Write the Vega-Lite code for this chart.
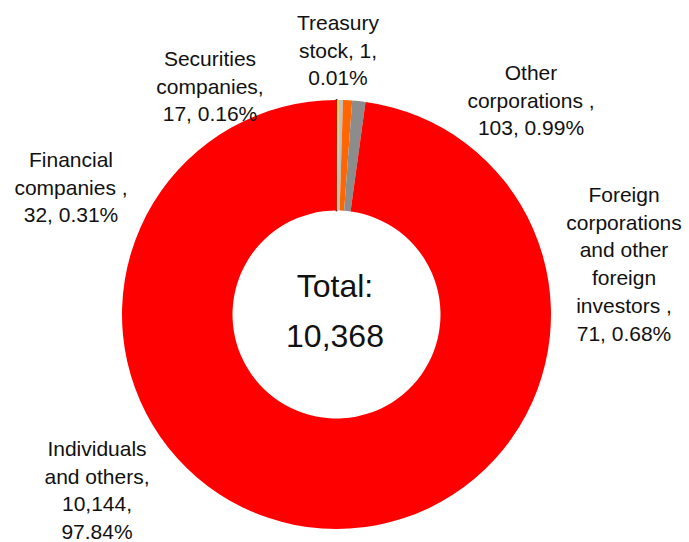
{
  "$schema": "https://vega.github.io/schema/vega-lite/v6.json",
  "width": 673,
  "height": 429,
  "autosize": {"type": "none"},
  "padding": {"top": 100, "left": 0, "right": 16, "bottom": 13},
  "background": "white",
  "config": {
    "view": {"stroke": null},
    "text": {"font": "Liberation Sans", "fontSize": 21, "color": "#111111", "lineBreak": "\n", "lineHeight": 27.7, "align": "center", "baseline": "alphabetic"}
  },
  "data": {
    "values": [
      {"holder": "Treasury stock", "shares": 1},
      {"holder": "Securities companies", "shares": 17},
      {"holder": "Financial companies", "shares": 32},
      {"holder": "Foreign corporations and other foreign investors", "shares": 71},
      {"holder": "Other corporations", "shares": 103},
      {"holder": "Individuals and others", "shares": 10144}
    ]
  },
  "transform": [
    {"joinaggregate": [{"op": "sum", "field": "shares", "as": "total"}]},
    {"calculate": "datum.shares / datum.total * 100", "as": "pct"},
    {"window": [{"op": "row_number", "as": "idx"}]}
  ],
  "layer": [
    {
      "mark": {"type": "arc", "innerRadius": 104, "outerRadius": 214.5},
      "encoding": {
        "theta": {"field": "shares", "type": "quantitative", "stack": true},
        "order": {"field": "idx", "type": "quantitative"},
        "color": {
          "field": "holder", "type": "nominal", "legend": null,
          "scale": {
            "domain": ["Treasury stock", "Securities companies", "Financial companies", "Foreign corporations and other foreign investors", "Other corporations", "Individuals and others"],
            "range": ["#000000", "#FFC000", "#C0C0C0", "#FF6600", "#8C8C8C", "#FF0000"]
          }
        },
        "stroke": {
          "field": "holder", "type": "nominal", "legend": null,
          "scale": {
            "domain": ["Treasury stock", "Securities companies", "Financial companies", "Foreign corporations and other foreign investors", "Other corporations", "Individuals and others"],
            "range": ["#000000", "#FFC000", "#C0C0C0", "#FF6600", "#8C8C8C", "#FF0000"]
          }
        },
        "strokeWidth": {"condition": {"test": "datum.holder === 'Treasury stock'", "value": 1.6}, "value": 0}
      }
    },
    {
      "transform": [
        {"filter": "datum.holder === 'Treasury stock'"},
        {"calculate": "'Treasury\\nstock, ' + format(datum.shares, ',') + ',\\n' + format(datum.pct, '.2f') + '%'", "as": "label"}
      ],
      "mark": {"type": "text", "dx": 1.5, "dy": -284.5},
      "encoding": {"text": {"field": "label", "type": "nominal"}}
    },
    {
      "transform": [
        {"filter": "datum.holder === 'Securities companies'"},
        {"calculate": "'Securities\\ncompanies,\\n' + format(datum.shares, ',') + ', ' + format(datum.pct, '.2f') + '%'", "as": "label"}
      ],
      "mark": {"type": "text", "dx": -126.5, "dy": -248.5},
      "encoding": {"text": {"field": "label", "type": "nominal"}}
    },
    {
      "transform": [
        {"filter": "datum.holder === 'Other corporations'"},
        {"calculate": "'Other\\ncorporations ,\\n' + format(datum.shares, ',') + ', ' + format(datum.pct, '.2f') + '%'", "as": "label"}
      ],
      "mark": {"type": "text", "dx": 194.5, "dy": -234.5},
      "encoding": {"text": {"field": "label", "type": "nominal"}}
    },
    {
      "transform": [
        {"filter": "datum.holder === 'Financial companies'"},
        {"calculate": "'Financial\\ncompanies ,\\n' + format(datum.shares, ',') + ', ' + format(datum.pct, '.2f') + '%'", "as": "label"}
      ],
      "mark": {"type": "text", "dx": -265.5, "dy": -147.5},
      "encoding": {"text": {"field": "label", "type": "nominal"}}
    },
    {
      "transform": [
        {"filter": "datum.holder === 'Foreign corporations and other foreign investors'"},
        {"calculate": "'Foreign\\ncorporations\\nand other\\nforeign\\ninvestors ,\\n' + format(datum.shares, ',') + ', ' + format(datum.pct, '.2f') + '%'", "as": "label"}
      ],
      "mark": {"type": "text", "dx": 287.5, "dy": -112.5},
      "encoding": {"text": {"field": "label", "type": "nominal"}}
    },
    {
      "transform": [
        {"filter": "datum.holder === 'Individuals and others'"},
        {"calculate": "'Individuals\\nand others,\\n' + format(datum.shares, ',') + ',\\n' + format(datum.pct, '.2f') + '%'", "as": "label"}
      ],
      "mark": {"type": "text", "dx": -239.5, "dy": 141.5},
      "encoding": {"text": {"field": "label", "type": "nominal"}}
    },
    {
      "transform": [
        {"aggregate": [{"op": "sum", "field": "shares", "as": "sum"}]},
        {"calculate": "'Total:\\n' + format(datum.sum, ',')", "as": "label"}
      ],
      "mark": {"type": "text", "fontSize": 32, "lineHeight": 50, "dx": -1.5, "dy": -17.5},
      "encoding": {"text": {"field": "label", "type": "nominal"}}
    }
  ]
}
